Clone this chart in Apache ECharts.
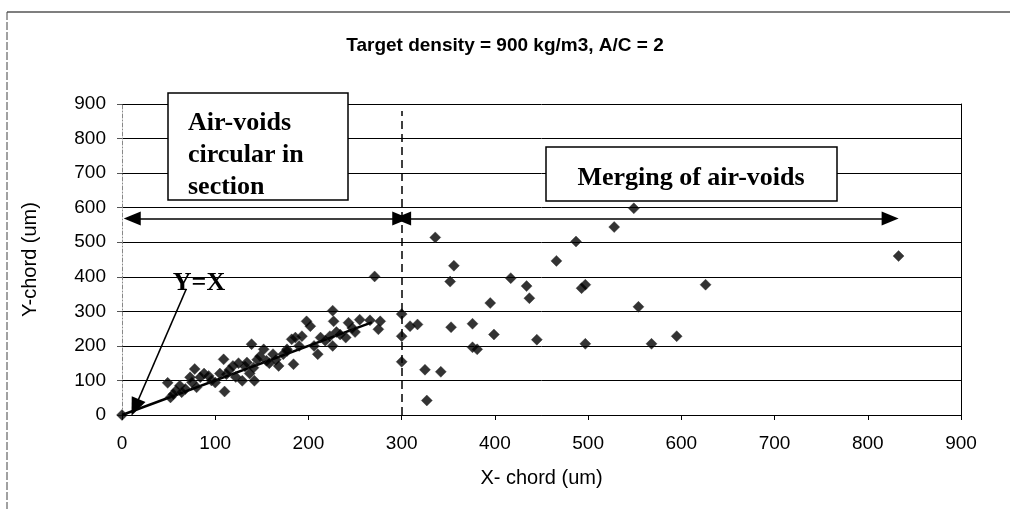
<!DOCTYPE html>
<html>
<head>
<meta charset="utf-8">
<script src="https://cdn.jsdelivr.net/npm/echarts@6/dist/echarts.min.js"></script>
<style>html,body{margin:0;padding:0;background:#fff}#c{width:1010px;height:509px}</style>
</head>
<body>
<div id="c"></div>
<script>
// ---- data ----
const xChord = [0,49,52,55,58,62,64,68,73,75,78,80,84,88,93,96,100,105,109,110,112,115,119,122,125,129,132,134,137,139,141,142,145,148,152,155,158,162,165,168,173,177,177,182,184,186,190,193,198,202,206,210,213,218,223,226,227,226,230,234,240,243,247,250,255,266,271,275,277,
  300,300,300,309,317,325,327,336,342,352,353,356,376,376,381,395,399,417,434,437,445,466,487,493,497,497,528,549,554,568,595,626,833];
const yChord = [0,93,51,60,70,85,66,75,109,95,133,80,109,120,113,100,94,120,161,68,118,130,142,110,150,99,140,152,120,205,137,99,160,170,190,157,150,176,160,142,176,190,185,219,147,224,200,228,271,257,200,176,224,215,228,302,271,200,240,233,224,267,252,240,276,274,401,248,271,
  292,228,154,257,262,131,42,514,125,386,254,432,264,196,190,324,233,396,373,338,218,446,502,367,377,206,544,598,313,206,228,377,460];
const refLineYX = [[0,0],[268,268]];
const titleText = 'Target density = 900 kg/m3, A/C = 2';
const xName = 'X- chord (um)';
const yName = 'Y-chord (um)';

const points = xChord.map((x,i)=>[x,yChord[i]]);

const chart = echarts.init(document.getElementById('c'), null, {renderer:'canvas'});
const black = '#000';
const lbl = {show:false};
chart.setOption({
  animation:false,
  backgroundColor:'#fff',
  title:{text:titleText,left:'center',top:31,textStyle:{fontFamily:'Liberation Sans, Arial',fontWeight:'bold',fontSize:19,color:'#000'}},
  grid:{left:122,top:104,width:839,height:311},
  xAxis:{type:'value',min:0,max:900,interval:100,
    name:xName,nameLocation:'middle',nameGap:53,
    nameTextStyle:{fontFamily:'Liberation Sans, Arial',fontSize:20,color:'#000'},
    axisLine:{show:true,onZero:false,lineStyle:{color:black,width:1}},
    axisTick:{show:true,length:5,lineStyle:{color:black}},
    axisLabel:{margin:19,fontFamily:'Liberation Sans, Arial',fontSize:19,color:'#000'},
    splitLine:{show:false}},
  yAxis:[{type:'value',min:0,max:900,interval:100,
    name:yName,nameLocation:'middle',nameGap:82,
    nameTextStyle:{fontFamily:'Liberation Sans, Arial',fontSize:20,color:'#000'},
    axisLine:{show:true,lineStyle:{color:'#888',width:1,type:[4,2,1,2]}},
    axisTick:{show:true,length:5,lineStyle:{color:'#555'}},
    axisLabel:{margin:16,fontFamily:'Liberation Sans, Arial',fontSize:19,color:'#000'},
    splitLine:{show:true,lineStyle:{color:black,width:1}}},
   {type:'value',min:0,max:900,interval:100,position:'right',
    axisLine:{show:true,lineStyle:{color:black,width:1}},
    axisTick:{show:false},axisLabel:{show:false},splitLine:{show:false}}],
  series:[
    {type:'line',data:refLineYX,symbol:'none',lineStyle:{color:black,width:2.5},silent:true,z:3,
     markLine:{silent:true,symbol:['none','none'],label:lbl,emphasis:{disabled:true},animation:false,
      data:[
        [{coord:[300,0],symbol:'none',lineStyle:{color:black,width:1.5,type:[8,5]}},{coord:[300,880],symbol:'none'}],
        [{coord:[11,569],symbol:'triangle',symbolSize:[14,17],lineStyle:{color:black,width:1.5,type:'solid'}},{coord:[299,569],symbol:'triangle',symbolSize:[14,17]}],
        [{coord:[301,569],symbol:'triangle',symbolSize:[14,17],lineStyle:{color:black,width:1.5,type:'solid'}},{coord:[824,569],symbol:'triangle',symbolSize:[14,17]}],
        [{coord:[69,365],symbol:'none',lineStyle:{color:black,width:1.5,type:'solid'}},{coord:[14,22],symbol:'triangle',symbolSize:[15,18]}]
      ]}},
    {type:'scatter',data:points,symbol:'diamond',symbolSize:11,itemStyle:{color:black,borderColor:'#333',borderWidth:0.5},z:4}
  ],
  graphic:[
    {type:'line',shape:{x1:7,y1:12,x2:1010,y2:12},style:{stroke:'#555',lineWidth:1.5}},
    {type:'line',shape:{x1:7,y1:12,x2:7,y2:509},style:{stroke:'#444',lineWidth:1,lineDash:[8,2]}},
    {type:'rect',shape:{x:168,y:93,width:180,height:107},style:{fill:'#fff',stroke:'#000',lineWidth:1.5},z:100},
    {type:'text',left:188,top:107,style:{text:'Air-voids\ncircular in\nsection',font:'bold 26px "Liberation Serif", "Times New Roman", serif',fill:'#000',lineHeight:32},z:101},
    {type:'rect',shape:{x:546,y:147,width:291,height:54},style:{fill:'#fff',stroke:'#000',lineWidth:1.5},z:100},
    {type:'text',x:691,y:178,style:{text:'Merging of air-voids',font:'bold 26px "Liberation Serif", "Times New Roman", serif',fill:'#000',textAlign:'center',textVerticalAlign:'middle'},z:101},
    {type:'text',x:199,y:283,style:{text:'Y=X',font:'bold 26px "Liberation Serif", "Times New Roman", serif',fill:'#000',textAlign:'center',textVerticalAlign:'middle'},z:101}
  ]
});
</script>
</body>
</html>
